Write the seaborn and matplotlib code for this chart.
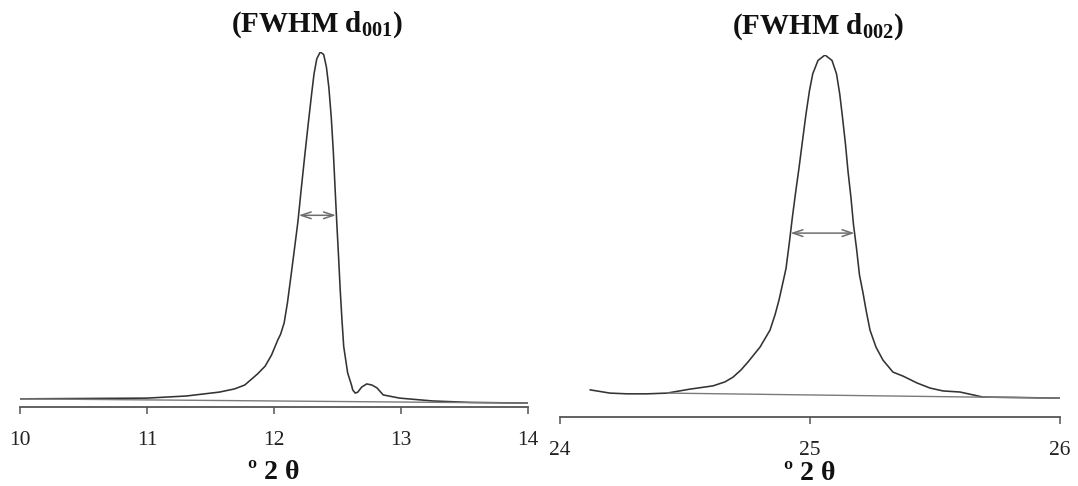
import matplotlib
matplotlib.use("Agg")
import matplotlib.pyplot as plt
import pandas as pd
import seaborn as sns

# Diffraction profile around the d001 reflection (degrees 2-theta, normalised intensity)
two_theta_001 = [10.000, 10.510, 11.000, 11.310, 11.570, 11.690, 11.770, 11.870, 11.930, 11.980,
                 12.030, 12.052, 12.080, 12.106, 12.134, 12.161, 12.188, 12.215, 12.243, 12.269,
                 12.296, 12.315, 12.337, 12.364, 12.391, 12.413, 12.432, 12.451, 12.467, 12.481,
                 12.494, 12.508, 12.521, 12.535, 12.549, 12.580, 12.610, 12.620, 12.640, 12.660,
                 12.690, 12.730, 12.770, 12.810, 12.860, 12.990, 13.250, 13.540, 14.000]
intensity_001 = [2.3, 2.4, 2.5, 3.1, 4.2, 5.1, 6.2, 9.3, 11.5, 14.6,
                 18.9, 20.5, 23.7, 29.4, 37.0, 44.5, 52.1, 61.6, 71.1, 79.6,
                 88.1, 93.8, 98.1, 100.0, 99.3, 95.7, 90.0, 81.5, 72.0, 61.6,
                 52.1, 42.6, 33.2, 24.6, 17.0, 9.6, 6.2, 4.8, 3.9, 4.2,
                 5.6, 6.5, 6.2, 5.4, 3.4, 2.5, 1.7, 1.3, 1.1]
baseline_001_x = [10.0, 14.0]
baseline_001_y = [2.3, 1.1]
fwhm_001 = (12.195, 12.488, 54.0)

# Diffraction profile around the d002 reflection
two_theta_002 = [24.120, 24.200, 24.268, 24.348, 24.428, 24.520, 24.612, 24.660, 24.692, 24.724,
                 24.752, 24.800, 24.840, 24.860, 24.876, 24.904, 24.918, 24.929, 24.943, 24.956,
                 24.970, 24.984, 24.998, 25.011, 25.032, 25.060, 25.088, 25.106, 25.119, 25.130,
                 25.142, 25.152, 25.164, 25.174, 25.186, 25.198, 25.212, 25.224, 25.240, 25.264,
                 25.292, 25.332, 25.372, 25.428, 25.480, 25.532, 25.600, 25.692, 25.828, 26.000]
intensity_002 = [7.5, 6.6, 6.4, 6.4, 6.6, 7.7, 8.6, 9.7, 11.0, 13.0,
                 15.2, 19.3, 24.0, 28.2, 32.3, 41.0, 48.5, 54.9, 62.3, 68.8,
                 76.3, 83.7, 90.2, 94.8, 98.5, 100.0, 98.5, 94.8, 89.2, 82.8,
                 75.3, 67.9, 60.5, 53.1, 46.6, 39.2, 34.3, 29.6, 24.0, 19.3,
                 15.7, 12.4, 11.3, 9.4, 8.0, 7.2, 6.9, 5.5, 5.4, 5.2]
baseline_002_x = [24.43, 26.0]
baseline_002_y = [6.6, 5.2]
fwhm_002 = (24.922, 25.178, 50.8)

ticks_001 = [10, 11, 12, 13, 14]
ticks_002 = [24, 25, 26]

sns.set_theme(style="white")
plt.rcParams["font.family"] = ["Liberation Serif", "DejaVu Serif"]
plt.rcParams["mathtext.fontset"] = "custom"
plt.rcParams["mathtext.rm"] = "Liberation Serif"
plt.rcParams["mathtext.bf"] = "Liberation Serif:bold"
plt.rcParams["mathtext.it"] = "Liberation Serif:italic"

W, H = 1078, 486
fig = plt.figure(figsize=(W / 100, H / 100), dpi=100)


def px_axes(x0, x1, y_bottom, y_top):
    return fig.add_axes([x0 / W, (H - y_bottom) / H, (x1 - x0) / W, (y_bottom - y_top) / H])


ax1 = px_axes(20, 528, 407, 52)
ax2 = px_axes(560, 1060, 417, 55)

curve_col = "#333333"
base_col = "#7a7a7a"
arrow_col = "#6e6e6e"

panels = [
    (ax1, two_theta_001, intensity_001, baseline_001_x, baseline_001_y, fwhm_001, ticks_001, (10, 14), 7.5),
    (ax2, two_theta_002, intensity_002, baseline_002_x, baseline_002_y, fwhm_002, ticks_002, (24, 26), 1.0),
]

for ax, tt, inten, bx, by, fw, ticks, lim, lpad in panels:
    df = pd.DataFrame({"two_theta": tt, "intensity": inten})
    sns.lineplot(data=df, x="two_theta", y="intensity", ax=ax, color=curve_col,
                 linewidth=1.15, sort=False, estimator=None)
    ax.lines[-1].set_solid_joinstyle("round")
    bl = pd.DataFrame({"two_theta": bx, "intensity": by})
    sns.lineplot(data=bl, x="two_theta", y="intensity", ax=ax, color=base_col,
                 linewidth=1.0, estimator=None)
    ax.annotate("", xy=(fw[0], fw[2]), xytext=(fw[1], fw[2]),
                arrowprops=dict(arrowstyle="<->,head_length=0.6,head_width=0.2",
                                color=arrow_col, lw=1.1, shrinkA=0, shrinkB=0))
    ax.set_xlim(*lim)
    ax.set_ylim(0, 100)
    ax.set_xticks(ticks)
    ax.set_xticklabels([str(t) for t in ticks])
    ax.set_yticks([])
    ax.set_ylabel("")
    for side in ("left", "right", "top"):
        ax.spines[side].set_visible(False)
    ax.spines["bottom"].set_color("#555555")
    ax.spines["bottom"].set_linewidth(1.3)
    ax.tick_params(axis="x", direction="out", length=5, width=1.1, color="#555555",
                   pad=12, labelsize=15.5, labelcolor="#222222", bottom=True)
    ax.set_xlabel("º 2 θ", fontsize=20, fontweight="bold", color="#111111", labelpad=lpad)
    ax.patch.set_alpha(0)

fig.text(317 / W, 1 - 25 / H, r"$\mathbf{(FWHM\ d_{001})}$", ha="center", va="center",
         fontsize=21, color="#111111")
fig.text(818 / W, 1 - 27 / H, r"$\mathbf{(FWHM\ d_{002})}$", ha="center", va="center",
         fontsize=21, color="#111111")

fig.savefig("out.png", dpi=100, facecolor="white")
